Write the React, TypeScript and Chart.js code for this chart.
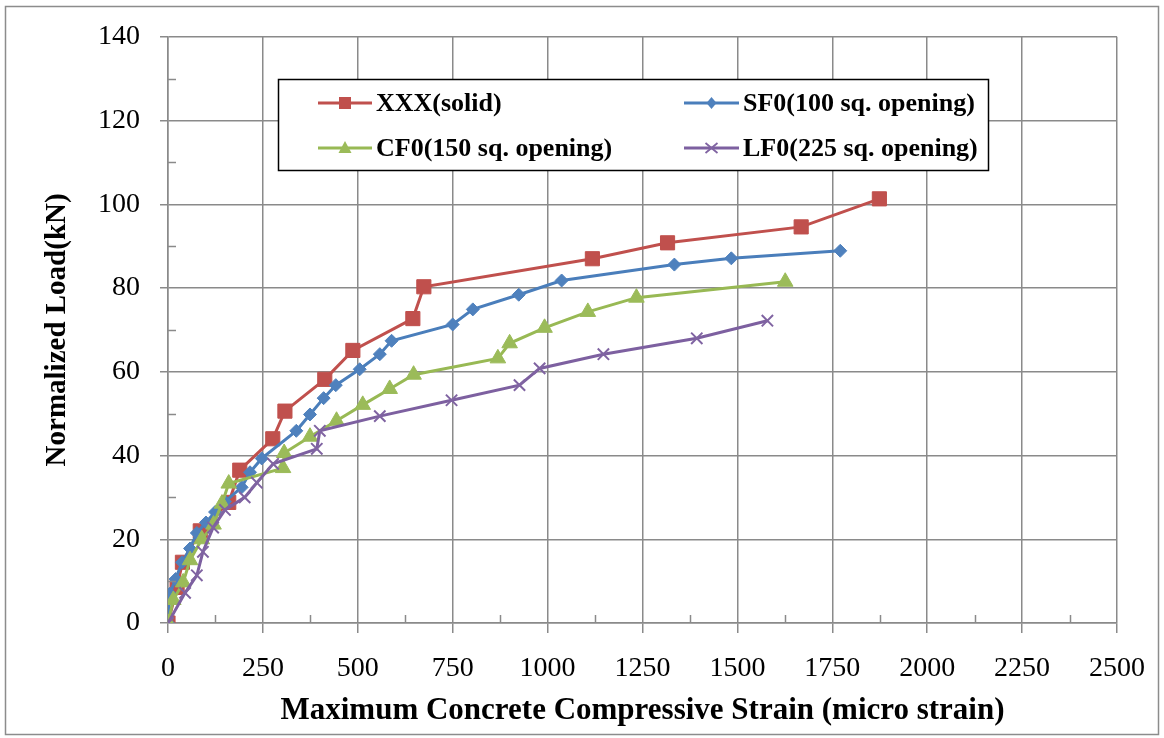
import React, { useEffect, useRef } from 'react';
import { Chart, registerables } from 'chart.js';

Chart.register(...registerables);

// ---------- data ----------
const seriesNames = ['XXX(solid)', 'SF0(100 sq. opening)', 'CF0(150 sq. opening)', 'LF0(225 sq. opening)'];

const xxxStrain = [0, 24, 38, 85, 160, 189, 276, 308, 413, 487, 645, 674, 1118, 1316, 1668, 1874];
const xxxLoad = [0, 8.5, 14.5, 22, 28.8, 36.5, 44, 50.6, 58.2, 65.1, 72.7, 80.3, 87.0, 90.8, 94.6, 101.3];

const sf0Strain = [0, 5, 20, 37, 58, 76, 100, 124, 150, 194, 216, 247, 338, 374, 410, 442, 505, 558, 589, 750, 803, 924, 1037, 1334, 1484, 1771];
const sf0Load = [0, 7, 10.5, 14.5, 17.8, 21.5, 24, 26.5, 29, 32.4, 36, 39.3, 45.9, 49.8, 53.7, 56.8, 60.6, 64.2, 67.4, 71.3, 74.9, 78.4, 81.8, 85.6, 87.1, 88.9];

const cf0Strain = [0, 14, 40, 58, 89, 120, 142, 160, 303, 306, 374, 444, 513, 584, 647, 869, 900, 992, 1106, 1234, 1626];
const cf0Load = [0, 5.5, 9.7, 15, 20, 23.5, 28.5, 33.3, 37, 40.6, 44.5, 48.3, 52.1, 55.9, 59.3, 63.2, 66.8, 70.5, 74.3, 77.7, 81.5];

const lf0Strain = [0, 45, 76, 92, 119, 150, 202, 234, 277, 392, 400, 558, 747, 926, 979, 1147, 1393, 1579];
const lf0Load = [0, 7.2, 11.4, 17, 22.8, 27, 30, 33.5, 38, 41.6, 45.9, 49.4, 53.2, 56.8, 60.8, 64.2, 68, 72.2];

const xTickValues = [0, 250, 500, 750, 1000, 1250, 1500, 1750, 2000, 2250, 2500];
const yTickValues = [0, 20, 40, 60, 80, 100, 120, 140];
const xMinorTicks = [125, 375, 625, 875, 1125, 1375, 1625, 1875, 2125, 2375];
const yMinorTicks = [10, 30, 50, 70, 90, 110, 130];

const xTitle = 'Maximum Concrete Compressive Strain (micro strain)';
const yTitle = 'Normalized Load(kN)';

// ---------- styles ----------
const SERIF = "'Liberation Serif', 'Times New Roman', serif";
const GRID = '#8a8a8a';
const colors = ['#C0504D', '#4A7EBB', '#98B954', '#7D60A0'];
const fills = ['#C0504D', '#4F81BD', '#9BBB59', '#8064A2'];
const pointStyles = ['rect', 'rectRot', 'triangle', 'crossRot'];
const pointRadii = [10, 6.5, 9, 8];

const zip = (xs: number[], ys: number[]) => xs.map((x, i) => ({ x, y: ys[i] }));

function drawLegendMarker(ctx: CanvasRenderingContext2D, idx: number, x: number, y: number) {
  ctx.save();
  ctx.fillStyle = fills[idx];
  ctx.strokeStyle = fills[idx];
  if (idx === 0) {
    ctx.fillRect(x - 6, y - 6, 12, 12);
  } else if (idx === 1) {
    ctx.beginPath();
    ctx.moveTo(x, y - 6);
    ctx.lineTo(x + 5, y);
    ctx.lineTo(x, y + 6);
    ctx.lineTo(x - 5, y);
    ctx.closePath();
    ctx.fill();
  } else if (idx === 2) {
    ctx.beginPath();
    ctx.moveTo(x, y - 7);
    ctx.lineTo(x + 6.5, y + 5);
    ctx.lineTo(x - 6.5, y + 5);
    ctx.closePath();
    ctx.fill();
  } else {
    ctx.lineWidth = 1.8;
    ctx.beginPath();
    ctx.moveTo(x - 6, y - 5);
    ctx.lineTo(x + 6, y + 5);
    ctx.moveTo(x + 6, y - 5);
    ctx.lineTo(x - 6, y + 5);
    ctx.stroke();
  }
  ctx.restore();
}

const decorPlugin = {
  id: 'decor',
  afterDraw(chart: any) {
    const ctx = chart.ctx as CanvasRenderingContext2D;
    const xs = chart.scales.x;
    const ys = chart.scales.y;
    const area = chart.chartArea;
    ctx.save();
    // minor ticks
    ctx.strokeStyle = GRID;
    ctx.lineWidth = 1.5;
    ctx.beginPath();
    yMinorTicks.forEach((v) => {
      const py = Math.round(ys.getPixelForValue(v)) + 0.5;
      ctx.moveTo(area.left, py);
      ctx.lineTo(area.left + 8, py);
    });
    xMinorTicks.forEach((v) => {
      const px = Math.round(xs.getPixelForValue(v)) + 0.5;
      ctx.moveTo(px, area.bottom);
      ctx.lineTo(px, area.bottom - 8);
    });
    ctx.stroke();

    // outer frame
    ctx.strokeStyle = '#8c8c8c';
    ctx.lineWidth = 1.5;
    ctx.strokeRect(5.5, 6.5, 1153, 728);

    // legend box
    const lx = 278, ly = 79, lw = 710, lh = 91;
    ctx.fillStyle = '#ffffff';
    ctx.fillRect(lx, ly, lw, lh);
    ctx.strokeStyle = '#000000';
    ctx.lineWidth = 1.5;
    ctx.strokeRect(lx + 0.5, ly + 0.5, lw, lh);

    const cols = [[318, 372, 376], [684, 739, 743]];
    const rows = [103, 148];
    ctx.font = `bold 26px ${SERIF}`;
    ctx.textBaseline = 'middle';
    ctx.textAlign = 'left';
    seriesNames.forEach((name, i) => {
      const c = cols[i % 2];
      const r = rows[Math.floor(i / 2)];
      ctx.strokeStyle = colors[i];
      ctx.lineWidth = 3;
      ctx.beginPath();
      ctx.moveTo(c[0], r);
      ctx.lineTo(c[1], r);
      ctx.stroke();
      drawLegendMarker(ctx, i, (c[0] + c[1]) / 2, r);
      ctx.fillStyle = '#000000';
      ctx.fillText(name, c[2], r + 1);
    });
    ctx.restore();
  },
};

export default function App() {
  const canvasRef = useRef<HTMLCanvasElement | null>(null);

  useEffect(() => {
    if (!canvasRef.current) return;
    const seriesData = [
      zip(xxxStrain, xxxLoad),
      zip(sf0Strain, sf0Load),
      zip(cf0Strain, cf0Load),
      zip(lf0Strain, lf0Load),
    ];
    const chart = new Chart(canvasRef.current, {
      type: 'line',
      data: {
        datasets: seriesData.map((d, i) => ({
          label: seriesNames[i],
          data: d,
          borderColor: colors[i],
          backgroundColor: fills[i],
          borderWidth: 3,
          pointStyle: pointStyles[i] as any,
          pointRadius: pointRadii[i],
          pointBackgroundColor: fills[i],
          pointBorderColor: fills[i],
          pointBorderWidth: i === 3 ? 2 : 1,
          tension: 0,
          fill: false,
          order: 3 - i,
        })),
      },
      options: {
        responsive: false,
        animation: false,
        events: [],
        layout: { padding: { left: 0, right: 46, top: 34, bottom: 0 } },
        plugins: {
          legend: { display: false },
          tooltip: { enabled: false },
          title: { display: false },
        },
        scales: {
          x: {
            type: 'linear',
            min: 0,
            max: 2500,
            afterFit: (s: any) => { s.height = 115; },
            afterBuildTicks: (s: any) => { s.ticks = xTickValues.map((v) => ({ value: v })); },
            ticks: {
              color: '#000',
              font: { family: SERIF, size: 28 },
              padding: 19,
              maxRotation: 0,
              autoSkip: false,
              callback: (v: any) => String(v),
            },
            grid: { color: GRID, lineWidth: 1.5, tickLength: 10, drawTicks: true },
            border: { color: GRID, width: 1.5 },
            title: {
              display: true,
              text: xTitle,
              color: '#000',
              font: { family: SERIF, size: 31, weight: 'bold', lineHeight: 1.2 },
              padding: { top: 0, bottom: 8 },
            },
          },
          y: {
            type: 'linear',
            min: 0,
            max: 140,
            afterFit: (s: any) => { s.width = 168; },
            afterBuildTicks: (s: any) => { s.ticks = yTickValues.map((v) => ({ value: v })); },
            ticks: {
              color: '#000',
              font: { family: SERIF, size: 28 },
              padding: 20,
              autoSkip: false,
              callback: (v: any) => String(v),
            },
            grid: { color: GRID, lineWidth: 1.5, tickLength: 8, drawTicks: true },
            border: { color: GRID, width: 1.5 },
            title: {
              display: true,
              text: yTitle,
              color: '#000',
              font: { family: SERIF, size: 29, weight: 'bold', lineHeight: 1.2 },
              padding: { top: 40, bottom: 0 },
            },
          },
        },
      },
      plugins: [decorPlugin],
    });
    return () => chart.destroy();
  }, []);

  return (
    <div style={{ position: 'absolute', left: 0, top: 0, width: 1164, height: 738, background: '#fff' }}>
      <canvas ref={canvasRef} width={1164} height={738} style={{ display: 'block', width: 1164, height: 738 }} />
    </div>
  );
}
